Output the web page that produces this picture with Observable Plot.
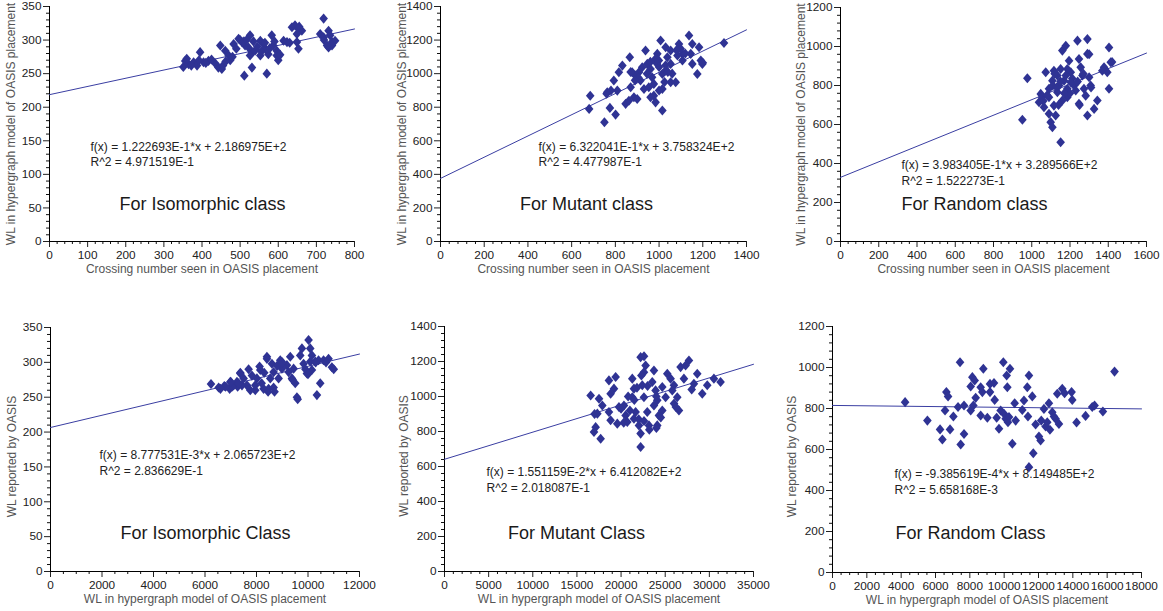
<!DOCTYPE html>
<html><head><meta charset="utf-8">
<script src="https://cdn.jsdelivr.net/npm/d3@7"></script>
<script src="https://cdn.jsdelivr.net/npm/@observablehq/plot@0.6"></script>
<style>
body{margin:0;background:#fff;overflow:hidden;}
#root{position:relative;width:1163px;height:611px;background:#fff;overflow:hidden;}
.panel{position:absolute;}
</style></head><body><div id="root"></div>
<script>
// ---------- DATA ----------
// Isomorphic class: crossing number vs WL in hypergraph model
const isoCross = [[351,260],[356,269],[365,264],[378,267],[387,262],[395,282],[404,267],[417,269],[435,265],[443,259],[452,257],[448,292],[461,284],[470,277],[474,270],[483,294],[496,302],[505,297],[513,292],[526,307],[522,289],[531,282],[526,277],[539,284],[511,247],[531,259],[553,299],[561,294],[566,287],[574,279],[553,277],[570,250],[583,307],[587,292],[596,284],[600,270],[596,277],[614,299],[623,297],[636,319],[644,322],[653,317],[662,314],[649,309],[649,297],[653,287],[719,332],[710,309],[719,304],[732,314],[736,307],[741,297],[749,299],[732,289],[741,292],[360,272],[372,262],[392,270],[410,266],[425,271],[455,262],[462,268],[480,275],[490,287],[500,300],[510,298],[517,300],[535,298],[545,290],[556,283],[565,296],[578,288],[590,298],[605,278],[630,296],[655,320],[720,300],[728,292]];
// Mutant class
const mutCross = [[750,710],[775,796],[801,756],[763,889],[793,959],[816,1008],[832,1048],[866,1098],[809,899],[870,919],[877,1008],[893,988],[847,820],[862,839],[885,859],[900,849],[915,959],[931,909],[938,1138],[946,1058],[961,1028],[968,978],[976,939],[976,869],[984,829],[1007,1197],[999,1078],[1015,998],[1015,909],[1015,780],[1030,1157],[1038,1098],[1053,1058],[1053,949],[1076,949],[1091,1177],[1107,1118],[1107,1078],[1137,1227],[1152,1177],[1183,1157],[1145,1118],[1191,1078],[1152,1058],[1198,1058],[1175,998],[1297,1183],[923,1038],[908,1008],[953,919],[961,859],[1030,1018],[1084,1108],[1099,1148],[992,1118],[984,1088],[1053,1138],[680,790],[685,868],[760,880],[780,900],[905,975],[945,1000],[990,1060],[1000,1040],[1025,950],[1030,1050],[1060,1000],[1080,1140],[1120,1120],[1200,1065],[960,1070],[1000,900],[1040,1010],[870,1010],[890,960]];
// Random class
const randCross = [[951,624],[977,837],[1047,757],[1038,714],[1055,740],[1073,868],[1090,655],[1099,612],[1108,586],[1125,646],[1116,876],[1108,825],[1090,783],[1116,697],[1134,765],[1143,800],[1151,885],[1160,979],[1178,1004],[1151,509],[1169,825],[1186,783],[1186,740],[1195,927],[1204,868],[1212,836],[1221,800],[1239,1030],[1247,936],[1247,706],[1256,893],[1265,851],[1273,783],[1282,748],[1291,646],[1291,1038],[1291,962],[1300,842],[1308,800],[1326,680],[1343,723],[1404,995],[1413,919],[1404,783],[1378,893],[1369,876],[1395,868],[1134,851],[1160,723],[1090,740],[1064,689],[1230,774],[1204,817],[1186,885],[1178,851],[1300,960],[1310,790],[1420,920],[1250,700],[1110,800],[1130,790],[1150,820],[1200,760],[1060,720],[1080,750],[1120,860],[1170,760],[1240,820],[1270,860],[1140,700]];
// WL in hypergraph model vs WL reported by OASIS
const isoWL = [[6233,269],[6530,264],[6750,266],[6983,272],[6957,262],[7112,267],[7370,285],[7267,265],[7629,267],[7694,290],[7952,260],[8017,277],[8120,294],[8405,308],[7049,265],[7371,284],[7436,267],[7953,267],[8147,289],[8406,305],[8276,262],[8470,262],[8600,298],[8664,286],[8535,277],[8923,303],[8988,291],[8858,277],[9311,308],[9441,291],[9376,277],[9505,270],[9570,250],[9699,310],[9764,320],[10022,332],[10087,320],[10087,301],[10152,310],[9829,298],[9958,284],[10152,289],[10281,301],[10410,303],[10475,270],[10346,253],[10604,303],[10798,305],[10928,293],[7823,281],[7500,277],[7242,272],[9182,296],[9247,286],[8664,264],[7759,260],[9600,247],[8450,258],[8700,258],[6800,265],[7000,272],[8200,270],[8800,295],[9000,300],[9900,290],[10000,283],[10300,300],[10700,300],[11000,290],[9400,275],[8300,285],[7300,270],[6600,262]];
const mutWL = [[16555,1006],[16932,797],[17120,825],[17687,759],[17500,987],[17877,949],[17313,902],[18626,1092],[19384,1111],[19196,1045],[18815,1016],[18626,911],[18815,864],[19761,940],[19573,845],[20327,949],[20516,892],[20705,854],[21271,1102],[21460,1045],[21271,996],[21648,911],[21460,873],[22025,835],[22214,788],[22214,711],[22214,1225],[22780,1177],[22591,1139],[22402,1064],[22591,996],[22968,911],[23157,835],[23723,1149],[23534,1083],[23911,1035],[24100,978],[24288,892],[24100,835],[24667,1054],[25234,1130],[25611,1102],[25045,996],[25988,1064],[26365,996],[26742,1168],[27119,1102],[27686,1206],[27308,1177],[28252,1073],[28629,1130],[29195,1016],[29761,1064],[30516,1102],[31271,1083],[26554,920],[25800,1035],[23723,949],[24667,920],[28000,1040],[20300,850],[22000,870],[22600,860],[23200,810],[24000,820],[24500,880],[21000,920],[20000,930],[17000,900],[21800,1050],[22300,1120],[23000,1060],[24000,1000],[26000,960],[26200,940],[22600,1230],[20800,1000],[21500,980]];
const randWL = [[4229,831],[5528,741],[6265,698],[6401,649],[6556,790],[6634,880],[6731,859],[6847,698],[7041,761],[7313,807],[7429,1026],[7468,624],[7662,676],[7662,815],[8050,790],[8050,907],[8147,953],[8205,815],[8283,937],[8341,852],[8632,766],[8632,904],[8729,880],[8787,994],[9020,755],[9175,920],[9175,880],[9408,924],[9447,842],[9563,755],[9699,701],[9796,790],[9951,1026],[9990,774],[10087,750],[10145,961],[10184,904],[10222,733],[10281,758],[10339,994],[10475,628],[10611,826],[10669,741],[11056,793],[11153,839],[11347,904],[11386,761],[11444,961],[11444,514],[11638,859],[11696,582],[11832,722],[12026,663],[12123,644],[12162,741],[12317,798],[12414,712],[12511,733],[12607,826],[12666,696],[12802,782],[12899,761],[12996,750],[13093,872],[13190,725],[13384,896],[13520,875],[13927,880],[13966,842],[14218,732],[14742,764],[15130,807],[15266,815],[15751,785],[16429,980]];

// fit coefficients (slope, intercept) as printed on the chart
const fitSlope = [1.222693e-1, 6.322041e-1, 3.983405e-1, 8.777531e-3, 1.551159e-2, -9.385619e-4];
const fitIntercept = [2.186975e2, 3.758324e2, 3.289566e2, 2.065723e2, 6.412082e2, 8.149485e2];
const eqText = ["f(x) = 1.222693E-1*x + 2.186975E+2","f(x) = 6.322041E-1*x + 3.758324E+2","f(x) = 3.983405E-1*x + 3.289566E+2","f(x) = 8.777531E-3*x + 2.065723E+2","f(x) = 1.551159E-2*x + 6.412082E+2","f(x) = -9.385619E-4*x + 8.149485E+2"];
const r2Text = ["R^2 = 4.971519E-1","R^2 = 4.477987E-1","R^2 = 1.522273E-1","R^2 = 2.836629E-1","R^2 = 2.018087E-1","R^2 = 5.658168E-3"];
const titles = ["For Isomorphic class","For Mutant class","For Random class","For Isomorphic Class","For Mutant Class","For Random Class"];
const xLabels = ["Crossing number seen in OASIS placement","Crossing number seen in OASIS placement","Crossing number seen in OASIS placement","WL in hypergraph model of OASIS placement","WL in hypergraph model of OASIS placement","WL in hypergraph model of OASIS placement"];
const yLabels = ["WL in hypergraph model of OASIS placement","WL in hypergraph model of OASIS placement","WL in hypergraph model of OASIS placement","WL reported by OASIS","WL reported by OASIS","WL reported by OASIS"];
const xMax = [800,1400,1600,12000,35000,18000];
const yMax = [350,1400,1200,350,1400,1200];
const xStep = [100,200,200,2000,5000,2000];
const xMinor = [20,40,40,500,1000,500];
const yStep = [50,200,200,50,200,200];
const yMinor = [10,40,40,10,40,40];
const series = [isoCross, mutCross, randCross, isoWL, mutWL, randWL];

// ---------- LAYOUT ----------
const frames = [
  {L:49,R:354,T:6,B:241, eq:[41,141], r2:[41,156], ti:[153,198], yl:-38, ylDy:0},
  {L:440,R:746,T:6,B:241, eq:[98,141], r2:[98,156], ti:[146,198], yl:-38, ylDy:0},
  {L:840,R:1146,T:7,B:241, eq:[61,158], r2:[61,174], ti:[134,197], yl:-39, ylDy:0},
  {L:50,R:359,T:327,B:571, eq:[49,128], r2:[49,144], ti:[155,206], yl:-38, ylDy:7},
  {L:444,R:753,T:326,B:571, eq:[42,146], r2:[42,162], ti:[132,207], yl:-40, ylDy:7},
  {L:832,R:1141,T:326,B:572, eq:[62,148], r2:[62,164], ti:[138,207], yl:-40, ylDy:7}
];
const dotColor = "#2f3394";
const lineColor = "#3a3ea2";
const font = "'Liberation Sans', Arial, Helvetica, sans-serif";

const diamond = {
  draw(ctx, size) {
    const r = Math.sqrt(size / Math.PI);
    const h = r * 1.05, w = r * 0.9;
    ctx.moveTo(0, -h); ctx.lineTo(w, 0); ctx.lineTo(0, h); ctx.lineTo(-w, 0); ctx.closePath();
  }
};

const root = document.getElementById("root");
const mL = 52, mR = 16, mT = 10, mB = 42;
const blank = () => "";

frames.forEach((f, i) => {
  const W = f.R - f.L + mL + mR, H = f.B - f.T + mT + mB;
  const major = (max, step) => d3.range(0, max + step / 2, step);
  const minor = (max, step, big) => d3.range(0, max + step / 2, step).filter(v => Math.abs(v / big - Math.round(v / big)) > 1e-6);
  const fit = [0, xMax[i]].map(x => ({x, y: fitSlope[i] * x + fitIntercept[i]}));
  const pts = series[i].map(([x, y]) => ({x, y}));
  const chart = Plot.plot({
    width: W, height: H,
    marginLeft: mL, marginRight: mR, marginTop: mT, marginBottom: mB,
    style: {fontFamily: font, fontSize: "11.8px", color: "#222", background: "transparent", overflow: "visible"},
    x: {domain: [0, xMax[i]]},
    y: {domain: [0, yMax[i]]},
    marks: [
      Plot.axisX({ticks: minor(xMax[i], xMinor[i], xStep[i]), tickSize: 3, tickFormat: blank, label: null, color: "#111"}),
      Plot.axisX({ticks: major(xMax[i], xStep[i]), tickSize: 6, tickPadding: 3, tickFormat: d3.format("d"), label: null, color: "#222", fontSize: 11.8}),
      Plot.axisY({ticks: minor(yMax[i], yMinor[i], yStep[i]), tickSize: 3, tickFormat: blank, label: null, color: "#111"}),
      Plot.axisY({ticks: major(yMax[i], yStep[i]), tickSize: 6, tickPadding: 2, tickFormat: d3.format("d"), label: null, color: "#222", fontSize: 11.8}),
      Plot.ruleY([0], {stroke: "#000"}),
      Plot.ruleX([0], {stroke: "#000"}),
      Plot.line(fit, {x: "x", y: "y", stroke: lineColor, strokeWidth: 1}),
      Plot.dot(pts, {x: "x", y: "y", symbol: diamond, r: 4.8, fill: dotColor, stroke: "none"}),
      Plot.text([eqText[i]], {frameAnchor: "top-left", dx: f.eq[0], dy: f.eq[1], text: d => d, textAnchor: "start", lineAnchor: "middle", fontSize: 12, fill: "#222"}),
      Plot.text([r2Text[i]], {frameAnchor: "top-left", dx: f.r2[0], dy: f.r2[1], text: d => d, textAnchor: "start", lineAnchor: "middle", fontSize: 12, fill: "#222"}),
      Plot.text([titles[i]], {frameAnchor: "top-left", dx: f.ti[0], dy: f.ti[1], text: d => d, textAnchor: "middle", lineAnchor: "middle", fontSize: 18, fill: "#1a1a1a"}),
      Plot.text([xLabels[i]], {frameAnchor: "bottom", dy: 28, text: d => d, textAnchor: "middle", lineAnchor: "middle", fontSize: 12, fill: "#555"}),
      Plot.text([yLabels[i]], {frameAnchor: "left", dx: f.yl, dy: f.ylDy, rotate: -90, text: d => d, textAnchor: "middle", lineAnchor: "middle", fontSize: 12, fill: "#555"})
    ]
  });
  const div = document.createElement("div");
  div.className = "panel";
  div.style.left = (f.L - mL) + "px";
  div.style.top = (f.T - mT) + "px";
  div.appendChild(chart);
  root.appendChild(div);
});
</script></body></html>
